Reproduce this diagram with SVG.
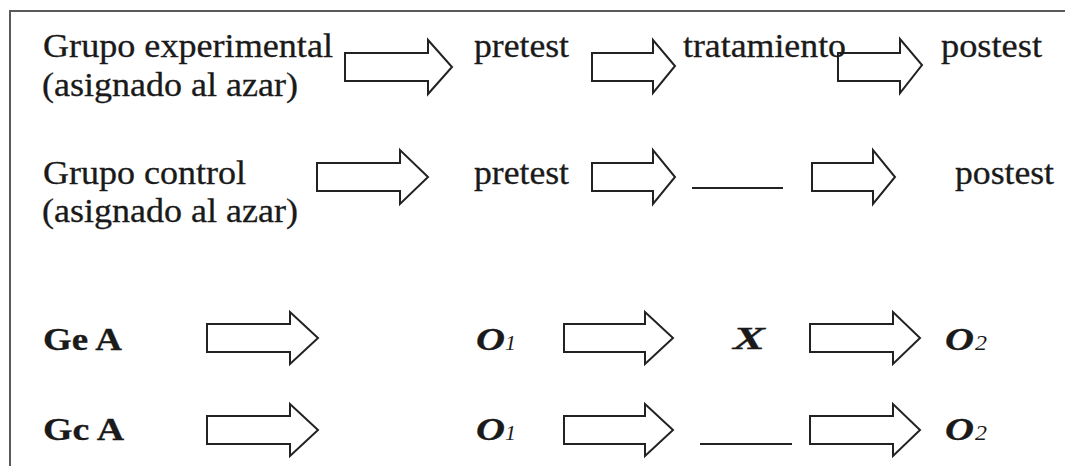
<svg xmlns="http://www.w3.org/2000/svg" width="1065" height="466" viewBox="0 0 1065 466">
<style>
.frame{stroke:#5a5a5a;stroke-width:2;fill:none}
.arr{fill:#fff;stroke:#222;stroke-width:2;stroke-linejoin:miter}
.blank{stroke:#222;stroke-width:2}
.t{font-family:"Liberation Serif","Times New Roman",serif;font-size:33px;fill:#1a1a1a;stroke:#1a1a1a;stroke-width:0.3}
.b{font-family:"Liberation Serif","Times New Roman",serif;font-size:31px;font-weight:bold;fill:#1a1a1a;stroke:#1a1a1a;stroke-width:0.3}
.bi{font-family:"Liberation Serif","Times New Roman",serif;font-size:32px;font-weight:bold;font-style:italic;fill:#1a1a1a;stroke:#1a1a1a;stroke-width:0.3}
.sub{font-family:"Liberation Serif","Times New Roman",serif;font-size:22px;font-style:italic;fill:#1a1a1a}
</style>
<rect width="1065" height="466" fill="#fff"/>
<path class="frame" d="M10,466 V11 H1065"/>
<g id="connectors">
<polygon class="arr" points="345,53 428,53 428,40 452,67 428,94 428,81 345,81"/>
<polygon class="arr" points="592,53 653,53 653,40 675,66 653,93 653,81 592,81"/>
<polygon class="arr" points="838,53 900,53 900,39 922,65 900,93 900,81 838,81"/>
<polygon class="arr" points="317,163 400,163 400,150 428,177 400,204 400,191 317,191"/>
<polygon class="arr" points="592,163 653,163 653,150 675,177 653,204 653,191 592,191"/>
<polygon class="arr" points="812,163 873,163 873,150 895,177 873,204 873,191 812,191"/>
<polygon class="arr" points="207,324 290,324 290,312 318,338 290,364 290,352 207,352"/>
<polygon class="arr" points="564,324 645,324 645,312 673,338 645,364 645,352 564,352"/>
<polygon class="arr" points="810,324 893,324 893,312 920,338 893,364 893,352 810,352"/>
<polygon class="arr" points="207,416 290,416 290,404 318,430 290,456 290,444 207,444"/>
<polygon class="arr" points="564,416 645,416 645,404 673,430 645,456 645,444 564,444"/>
<polygon class="arr" points="810,416 893,416 893,404 920,430 893,456 893,444 810,444"/>
</g>
<g id="grupo-experimental">
<text class="t" x="43" y="57" textLength="290" lengthAdjust="spacingAndGlyphs">Grupo experimental</text>
<text class="t" x="42" y="96" textLength="256" lengthAdjust="spacingAndGlyphs">(asignado al azar)</text>
</g>
<g id="pretest-e"><text class="t" x="474" y="57" textLength="95" lengthAdjust="spacingAndGlyphs">pretest</text></g>
<g id="tratamiento"><text class="t" x="683" y="57" textLength="163" lengthAdjust="spacingAndGlyphs">tratamiento</text></g>
<g id="postest-e"><text class="t" x="941" y="57" textLength="101" lengthAdjust="spacingAndGlyphs">postest</text></g>
<g id="grupo-control">
<text class="t" x="43" y="184" textLength="203" lengthAdjust="spacingAndGlyphs">Grupo control</text>
<text class="t" x="42" y="222" textLength="256" lengthAdjust="spacingAndGlyphs">(asignado al azar)</text>
</g>
<g id="pretest-c"><text class="t" x="474" y="184" textLength="95" lengthAdjust="spacingAndGlyphs">pretest</text></g>
<g id="sin-tratamiento-c"><line class="blank" x1="692" y1="188" x2="783" y2="188"/></g>
<g id="postest-c"><text class="t" x="955" y="184" textLength="99" lengthAdjust="spacingAndGlyphs">postest</text></g>
<g id="ge-a"><text class="b" x="43" y="350" textLength="79" lengthAdjust="spacingAndGlyphs">Ge A</text></g>
<g id="o1-e"><text class="bi" x="476" y="350" textLength="29" lengthAdjust="spacingAndGlyphs">O</text><text class="sub" x="505" y="350" textLength="11" lengthAdjust="spacingAndGlyphs">1</text></g>
<g id="x-e"><text class="bi" x="733" y="349" textLength="32" lengthAdjust="spacingAndGlyphs">X</text></g>
<g id="o2-e"><text class="bi" x="945" y="350" textLength="29" lengthAdjust="spacingAndGlyphs">O</text><text class="sub" x="975" y="350" textLength="12" lengthAdjust="spacingAndGlyphs">2</text></g>
<g id="gc-a"><text class="b" x="43" y="440" textLength="81" lengthAdjust="spacingAndGlyphs">Gc A</text></g>
<g id="o1-c"><text class="bi" x="476" y="440" textLength="29" lengthAdjust="spacingAndGlyphs">O</text><text class="sub" x="505" y="440" textLength="11" lengthAdjust="spacingAndGlyphs">1</text></g>
<g id="sin-tratamiento-gc"><line class="blank" x1="700" y1="444" x2="792" y2="444"/></g>
<g id="o2-c"><text class="bi" x="945" y="440" textLength="29" lengthAdjust="spacingAndGlyphs">O</text><text class="sub" x="975" y="440" textLength="12" lengthAdjust="spacingAndGlyphs">2</text></g>
</svg>
